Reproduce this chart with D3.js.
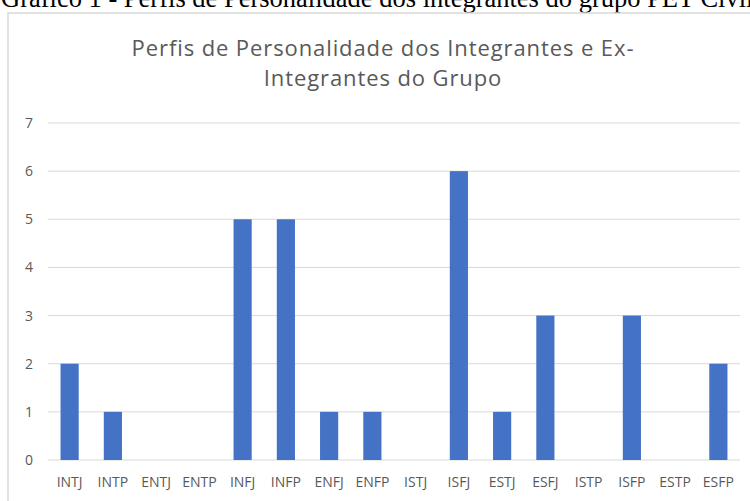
<!DOCTYPE html>
<html>
<head>
<meta charset="utf-8">
<script src="https://cdn.jsdelivr.net/npm/d3@7"></script>
<style>
  body { margin: 0; background: #fff; }
  svg { display: block; }
</style>
</head>
<body>
<svg width="750" height="501"></svg>
<script>
// data
const perfis = ['INTJ', 'INTP', 'ENTJ', 'ENTP', 'INFJ', 'INFP', 'ENFJ', 'ENFP',
  'ISTJ', 'ISFJ', 'ESTJ', 'ESFJ', 'ISTP', 'ISFP', 'ESTP', 'ESFP'];
const integrantes = [2, 1, 0, 0, 5, 5, 1, 1, 0, 6, 1, 3, 0, 3, 0, 2];
const yTicks = [0, 1, 2, 3, 4, 5, 6, 7];
const caption = 'Gráfico 1 - Perfis de Personalidade dos integrantes do grupo PET Civil';
const titleLines = ['Perfis de Personalidade dos Integrantes e Ex-', 'Integrantes do Grupo'];

const svg = d3.select('svg');
const font = '"Open Sans", sans-serif';
const grey = '#595959';

// caption above the chart (cut off at the top in the source)
svg.append('text')
  .attr('x', 1)
  .attr('y', 7)
  .attr('font-family', '"Liberation Serif", serif')
  .attr('font-size', 26.5)
  .attr('fill', '#000')
  .text(caption);

// chart frame
svg.append('rect')
  .attr('x', 8)
  .attr('y', 13)
  .attr('width', 800)
  .attr('height', 600)
  .attr('fill', 'none')
  .attr('stroke', '#d9d9d9')
  .attr('stroke-width', 1.5);

// title
svg.append('g')
  .selectAll('text')
  .data(titleLines)
  .enter().append('text')
  .attr('x', 383)
  .attr('y', (d, i) => 56 + i * 30)
  .attr('text-anchor', 'middle')
  .attr('font-family', font)
  .attr('font-size', 22)
  .attr('letter-spacing', 0.9)
  .attr('fill', grey)
  .text(d => d);

const x = d3.scaleBand()
  .domain(perfis)
  .range([48, 740])
  .paddingInner(0.58)
  .paddingOuter(0.29);

const y = d3.scaleLinear()
  .domain([0, 7])
  .range([460, 123]);

// gridlines
svg.append('g')
  .selectAll('line')
  .data(yTicks)
  .enter().append('line')
  .attr('x1', 48)
  .attr('x2', 740)
  .attr('y1', d => y(d))
  .attr('y2', d => y(d))
  .attr('stroke', '#d9d9d9')
  .attr('stroke-width', 1);

// y labels
const yAxis = svg.append('g')
  .attr('transform', 'translate(33,0)')
  .call(d3.axisLeft(y).tickValues(yTicks).tickFormat(d3.format('d')).tickSize(0).tickPadding(0));
yAxis.select('.domain').remove();
yAxis.selectAll('text')
  .attr('font-family', font)
  .attr('font-size', 14)
  .attr('fill', grey);

// bars
svg.append('g')
  .selectAll('rect')
  .data(integrantes)
  .enter().append('rect')
  .attr('x', (d, i) => x(perfis[i]))
  .attr('y', d => y(d))
  .attr('width', x.bandwidth())
  .attr('height', d => y(0) - y(d))
  .attr('fill', '#4472c4');

// x labels
const xAxis = svg.append('g')
  .attr('transform', 'translate(0,' + (y(0) + 17) + ')')
  .call(d3.axisBottom(x).tickSize(0).tickPadding(0));
xAxis.select('.domain').remove();
xAxis.selectAll('text')
  .attr('font-family', font)
  .attr('font-size', 14)
  .attr('fill', grey);
</script>
</body>
</html>
